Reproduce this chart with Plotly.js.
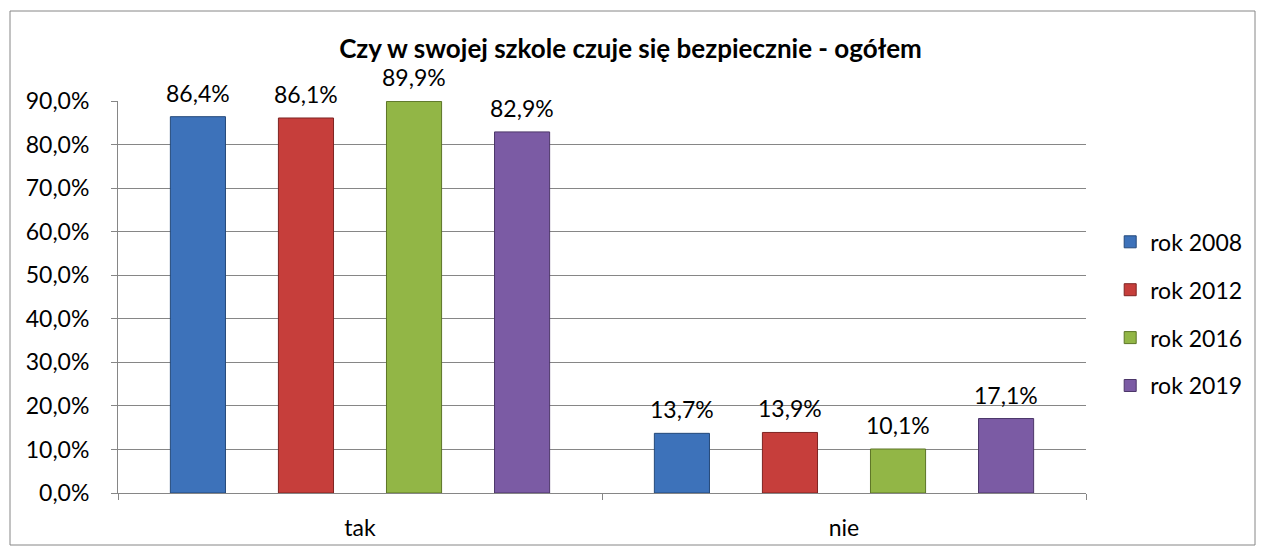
<!DOCTYPE html>
<html>
<head>
<meta charset="utf-8">
<script src="https://cdn.plot.ly/plotly-3.0.1.min.js"></script>
<style>
  body { margin: 0; background: #fff; }
  #wykres { width: 1261px; height: 551px; }
</style>
</head>
<body>
<div id="wykres"></div>
<script>
// dane wykresu
var kategorie = ["tak", "nie"];
var serie = ["rok 2008", "rok 2012", "rok 2016", "rok 2019"];
var rok2008 = [86.4, 13.7];
var rok2012 = [86.1, 13.9];
var rok2016 = [89.9, 10.1];
var rok2019 = [82.9, 17.1];
var wartosci = [rok2008, rok2012, rok2016, rok2019];
var kolory = ["#3D72BA", "#C63E3B", "#92B646", "#7B5BA4"];
var obramowanie = ["#24497A", "#7E2422", "#5C7526", "#4C3669"];

var odstepGrup = 0.107;
var odstepSlupkow = 0.49;

function etykieta(v) {
  return v.toFixed(1).replace(".", ",") + "%";
}

var dane = serie.map(function (nazwa, i) {
  return {
    type: "bar",
    name: nazwa,
    x: kategorie,
    y: wartosci[i],
    hoverinfo: "none",
    legendgroup: "g" + i,
    marker: { color: kolory[i], line: { color: obramowanie[i], width: 1 } }
  };
});

// etykiety danych nad slupkami (przesuniete w osi kategorii jak grupa slupkow)
var szerokoscSlotu = (1 - odstepGrup) / serie.length;
var etykiety = [];
wartosci.forEach(function (seria, i) {
  seria.forEach(function (v, k) {
    etykiety.push({
      xref: "x",
      yref: "y",
      x: k + (i - (serie.length - 1) / 2) * szerokoscSlotu,
      y: v,
      yshift: 24,
      yanchor: "middle",
      borderpad: 0,
      text: etykieta(v),
      showarrow: false,
      font: { family: "Lato, sans-serif", size: 23, color: "#000" }
    });
  });
});

var tampilan = {
  width: 1261,
  height: 551,
  margin: { l: 118, r: 175, t: 101, b: 58 },
  paper_bgcolor: "#fff",
  plot_bgcolor: "#fff",
  font: { family: "Lato, sans-serif", size: 23, color: "#000" },
  barmode: "group",
  bargap: odstepGrup,
  bargroupgap: odstepSlupkow,
  showlegend: true,
  title: {
    text: "<b>Czy w swojej szkole czuje się bezpiecznie - ogółem</b>",
    font: { family: "Lato, sans-serif", size: 26, color: "#000" },
    x: 0.5,
    xanchor: "center",
    y: 0.912,
    yanchor: "middle"
  },
  xaxis: {
    type: "category",
    tickson: "boundaries",
    ticks: "outside",
    ticklen: 6,
    tickcolor: "#868686",
    showline: true,
    linecolor: "#868686",
    showgrid: false,
    ticklabelstandoff: 14,
    tickfont: { size: 23 }
  },
  yaxis: {
    range: [0, 90],
    dtick: 10,
    tickformat: ".1f",
    ticksuffix: "%",
    ticks: "outside",
    ticklen: 6,
    tickcolor: "#868686",
    showline: true,
    linecolor: "#868686",
    gridcolor: "#868686",
    zeroline: false,
    ticklabelstandoff: 17,
    tickfont: { size: 23 }
  },
  separators: ",.",
  legend: {
    x: 1.025,
    xanchor: "left",
    y: 0.457,
    yanchor: "middle",
    font: { size: 23 },
    traceorder: "grouped",
    tracegroupgap: 15,
    itemwidth: 30,
    bgcolor: "rgba(0,0,0,0)"
  },
  annotations: etykiety,
  shapes: [{
    type: "rect",
    xref: "paper",
    yref: "paper",
    x0: (10 - 118) / 968,
    x1: (1255 - 118) / 968,
    y0: (493 - 545) / 392,
    y1: (493 - 11) / 392,
    line: { color: "#868686", width: 1 },
    layer: "below"
  }]
};

Plotly.newPlot("wykres", dane, tampilan, { staticPlot: true });
</script>
</body>
</html>
